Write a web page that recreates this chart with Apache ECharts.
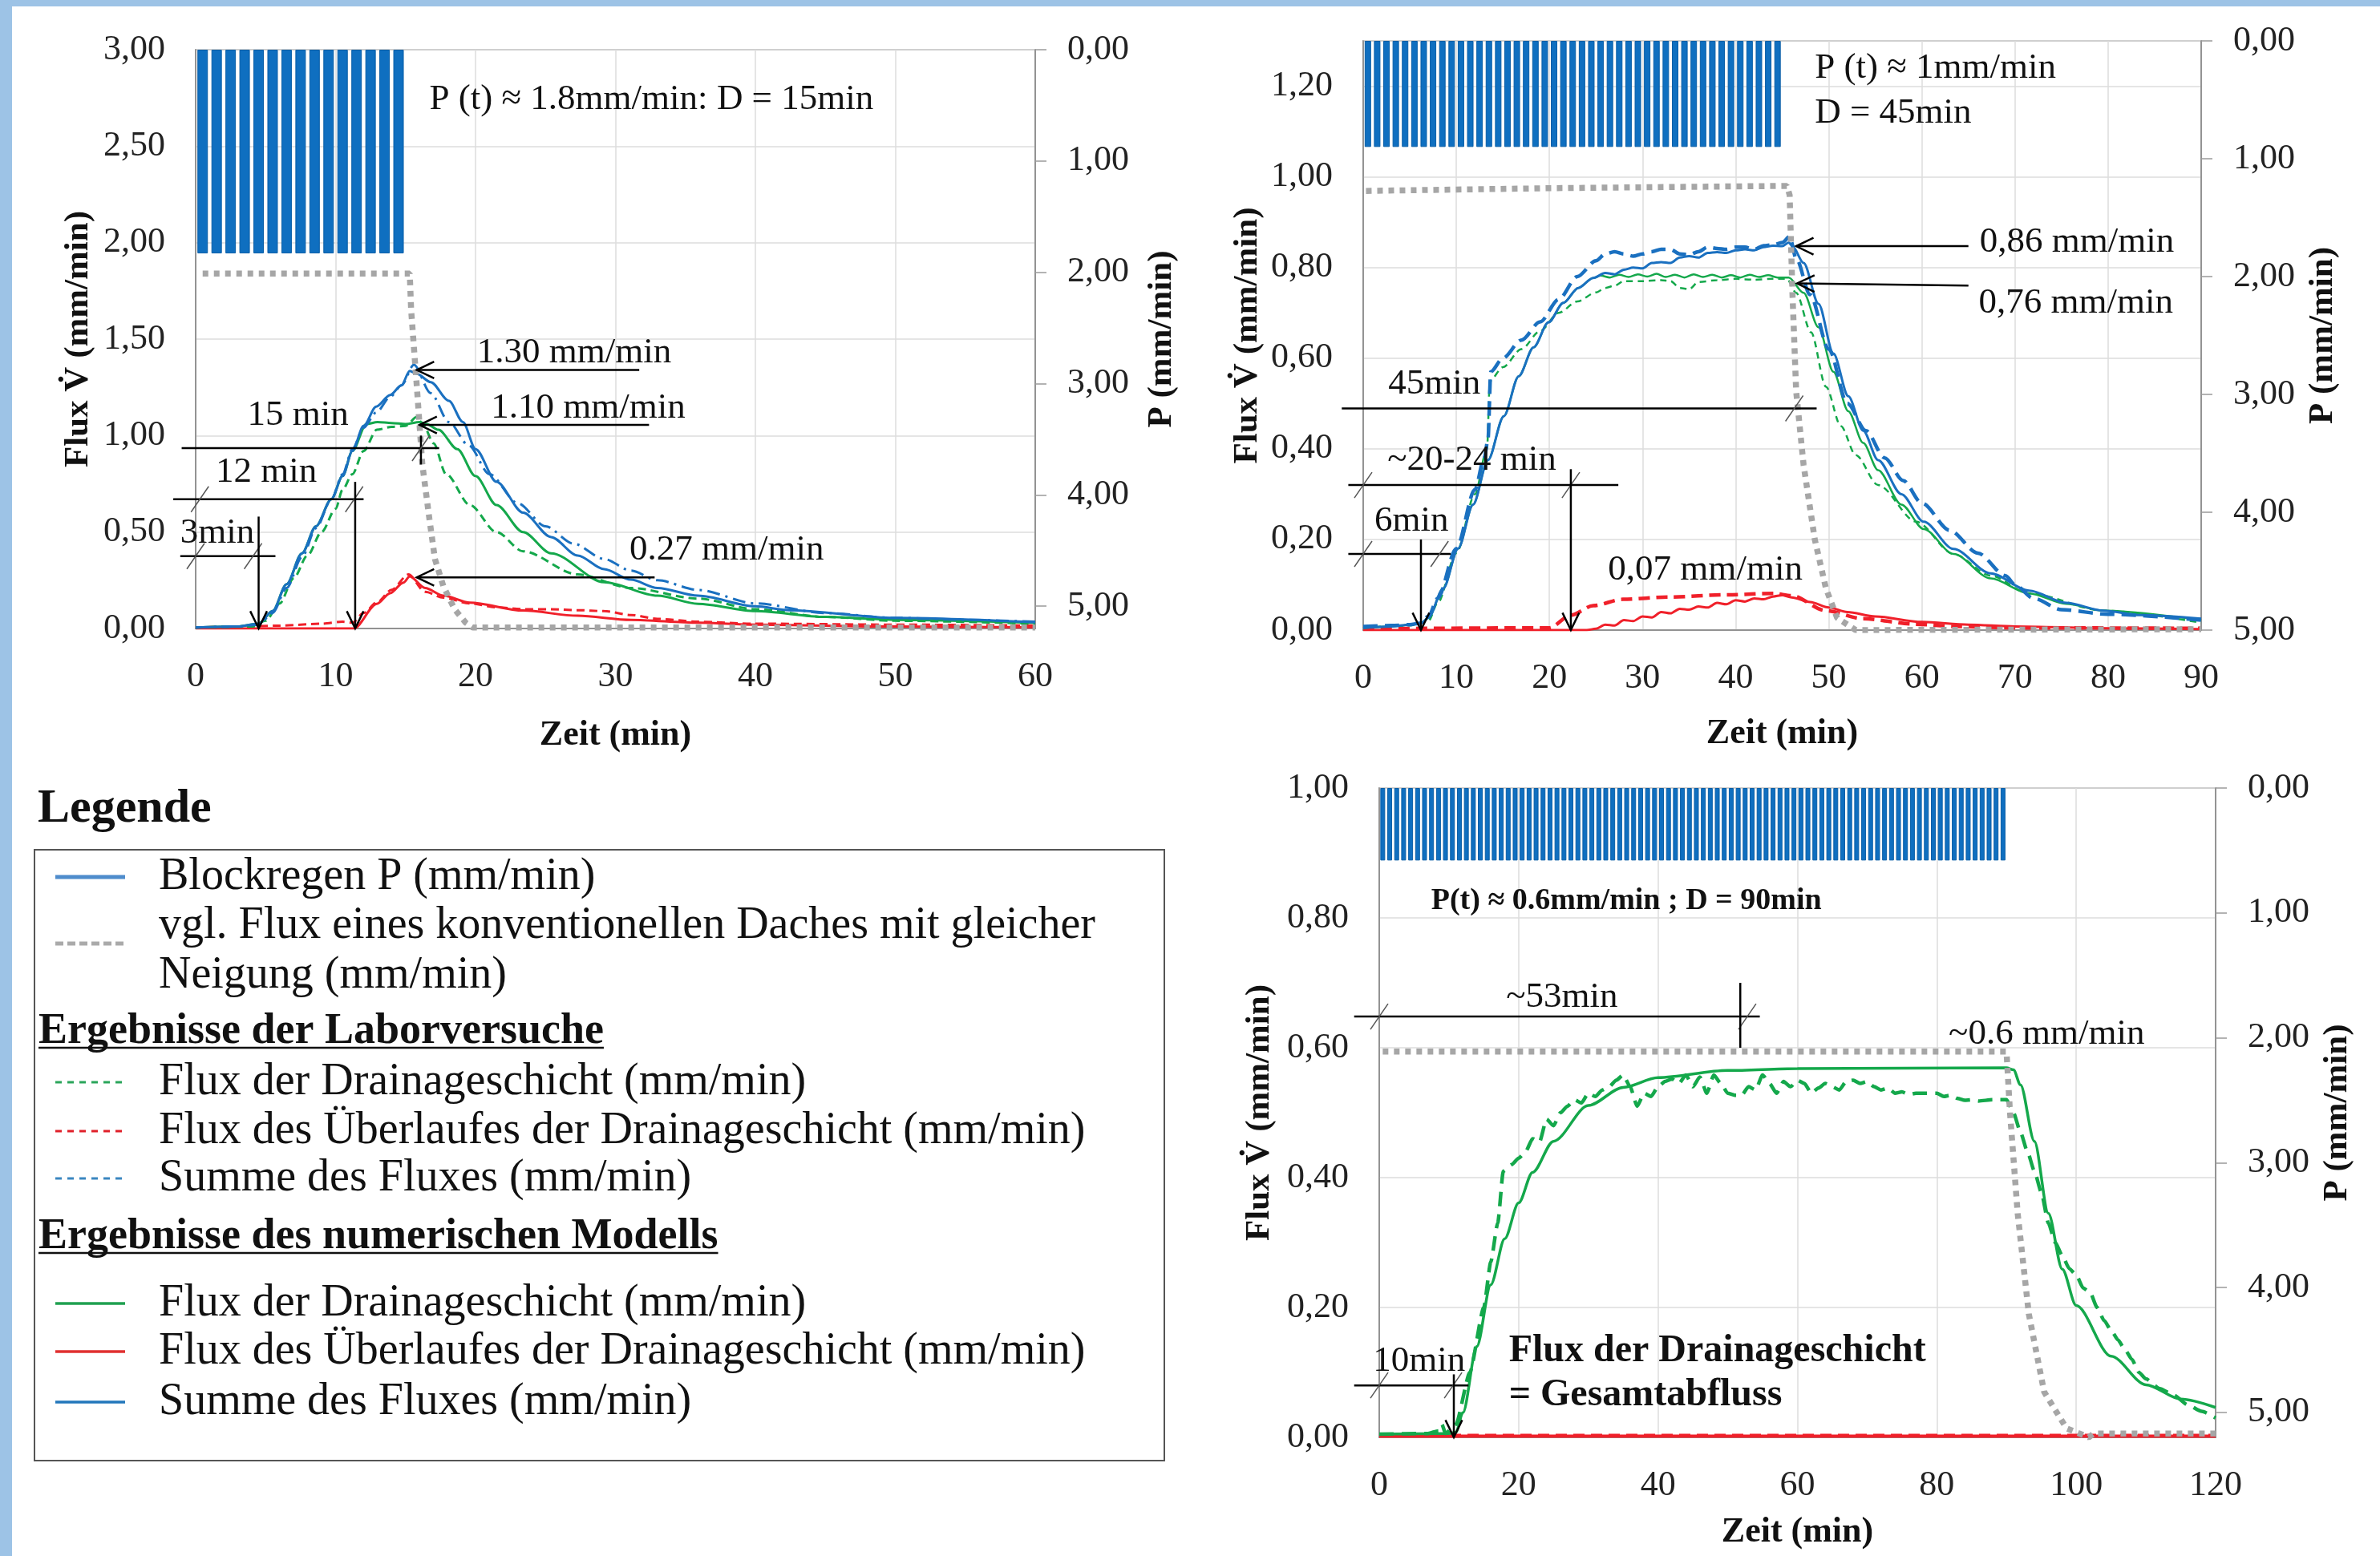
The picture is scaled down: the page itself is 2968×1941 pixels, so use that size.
<!DOCTYPE html>
<html>
<head>
<meta charset="utf-8">
<script src="https://cdn.jsdelivr.net/npm/echarts@6.0.0/dist/echarts.min.js"></script>
<style>
  html, body { margin: 0; padding: 0; background: #fff; }
  #main { width: 2968px; height: 1941px; }
</style>
</head>
<body>
<div id="main"></div>
<script>
// ---- rainfall blocks (mm/min per minute) ----
var rain1 = [1.83, 1.83, 1.83, 1.83, 1.83, 1.83, 1.83, 1.83, 1.83, 1.83, 1.83, 1.83, 1.83, 1.83, 1.83];
var rain2 = [0.9, 0.9, 0.9, 0.9, 0.9, 0.9, 0.9, 0.9, 0.9, 0.9, 0.9, 0.9, 0.9, 0.9, 0.9,
  0.9, 0.9, 0.9, 0.9, 0.9, 0.9, 0.9, 0.9, 0.9, 0.9, 0.9, 0.9, 0.9, 0.9, 0.9,
  0.9, 0.9, 0.9, 0.9, 0.9, 0.9, 0.9, 0.9, 0.9, 0.9, 0.9, 0.9, 0.9, 0.9, 0.9];
var rain3 = [0.58, 0.58, 0.58, 0.58, 0.58, 0.58, 0.58, 0.58, 0.58, 0.58, 0.58, 0.58, 0.58, 0.58, 0.58,
  0.58, 0.58, 0.58, 0.58, 0.58, 0.58, 0.58, 0.58, 0.58, 0.58, 0.58, 0.58, 0.58, 0.58, 0.58,
  0.58, 0.58, 0.58, 0.58, 0.58, 0.58, 0.58, 0.58, 0.58, 0.58, 0.58, 0.58, 0.58, 0.58, 0.58,
  0.58, 0.58, 0.58, 0.58, 0.58, 0.58, 0.58, 0.58, 0.58, 0.58, 0.58, 0.58, 0.58, 0.58, 0.58,
  0.58, 0.58, 0.58, 0.58, 0.58, 0.58, 0.58, 0.58, 0.58, 0.58, 0.58, 0.58, 0.58, 0.58, 0.58,
  0.58, 0.58, 0.58, 0.58, 0.58, 0.58, 0.58, 0.58, 0.58, 0.58, 0.58, 0.58, 0.58, 0.58, 0.58];

// ---- chart 1 : D = 15 min ----
var gray1 = [[0.5, 1.84], [15.3, 1.84], [15.4, 1.65], [15.8, 1.26], [16.2, 0.85], [16.7, 0.57], [17.1, 0.36],
  [17.7, 0.22], [18.5, 0.1], [19.3, 0.03], [19.8, 0.005], [60, 0.005]];
var blueModel1 = [[0, 0.005], [3, 0.01], [4.5, 0.025], [5.5, 0.09], [6.5, 0.23], [7.6, 0.39], [8.6, 0.53], [9.7, 0.67],
  [10.5, 0.79], [11.2, 0.92], [12.0, 1.05], [12.9, 1.15], [13.9, 1.21], [14.7, 1.26], [15.3, 1.335], [15.8, 1.32],
  [16.8, 1.277], [18.1, 1.18], [19.1, 1.07], [20.0, 0.93], [21.5, 0.76], [23.4, 0.6], [25.4, 0.474], [27.3, 0.378],
  [29.2, 0.307], [31.1, 0.253], [33.0, 0.21], [35.9, 0.17], [40, 0.115], [42.4, 0.095], [50, 0.055], [60, 0.032]];
var blueLab1 = [[0, 0.005], [3, 0.01], [4.5, 0.02], [5.5, 0.08], [6.5, 0.21], [7.6, 0.37], [8.6, 0.52], [9.7, 0.67],
  [10.5, 0.8], [11.2, 0.93], [12.0, 1.04], [12.9, 1.12], [13.9, 1.2], [14.7, 1.26], [15.6, 1.367], [16.8, 1.22],
  [18.1, 1.07], [19.5, 0.95], [21, 0.8], [23, 0.65], [25, 0.53], [27, 0.44], [29.2, 0.36], [31.1, 0.3], [33, 0.25],
  [35.9, 0.2], [40, 0.13], [45, 0.08], [50, 0.055], [55, 0.045], [60, 0.035]];
var greenModel1 = [[0, 0.005], [3, 0.01], [4.5, 0.025], [5.5, 0.09], [6.5, 0.23], [7.6, 0.39], [8.6, 0.53], [9.7, 0.67],
  [10.5, 0.79], [11.2, 0.92], [12.2, 1.06], [13, 1.07], [14, 1.065], [15, 1.06], [16, 1.07], [16.5, 1.06],
  [17.35, 1.03], [18.7, 0.93], [20.0, 0.79], [21.5, 0.64], [23.4, 0.5], [25.4, 0.39], [29.2, 0.24], [33.0, 0.17],
  [35.9, 0.128], [40, 0.09], [45, 0.06], [50, 0.045], [60, 0.03]];
var greenLab1 = [[0, 0.005], [4, 0.01], [5, 0.04], [6, 0.13], [7, 0.26], [8, 0.38], [9, 0.5], [10, 0.62], [10.5, 0.72],
  [11.2, 0.8], [12, 0.92], [12.95, 1.03], [14, 1.045], [15, 1.05], [15.8, 1.097], [16.3, 1.05], [17.0, 0.96],
  [17.9, 0.8], [19.6, 0.64], [21.5, 0.5], [23.4, 0.4], [27.3, 0.28], [31.1, 0.21], [35.9, 0.155], [40, 0.1],
  [45, 0.06], [50, 0.04], [60, 0.025]];
var redModel1 = [[0, 0.0], [11.3, 0.0], [12.95, 0.128], [13.9, 0.183], [14.85, 0.238], [15.3, 0.27], [16.4, 0.21],
  [17.7, 0.17], [19.6, 0.134], [23.4, 0.093], [27.3, 0.066], [31.1, 0.045], [35.9, 0.03], [40, 0.02], [50, 0.01], [60, 0.006]];
var redLab1 = [[0, 0.005], [3, 0.01], [6, 0.015], [9, 0.025], [10.5, 0.035], [11.2, 0.03], [12, 0.08], [12.95, 0.135],
  [14, 0.2], [15.2, 0.28], [16.4, 0.19], [17.7, 0.16], [19.6, 0.13], [21.5, 0.11], [23.4, 0.1], [25.4, 0.1],
  [27.3, 0.095], [29.2, 0.09], [31.1, 0.07], [33, 0.05], [35.9, 0.035], [40, 0.025], [50, 0.02], [60, 0.015]];

// ---- chart 2 : D = 45 min ----
var gray2 = [[0.3, 0.969], [10, 0.972], [20, 0.975], [30, 0.977], [40, 0.979], [45.5, 0.98], [45.8, 0.96], [46.1, 0.744],
  [46.5, 0.527], [47.3, 0.364], [48.5, 0.2], [49.7, 0.092], [50.9, 0.027], [52.9, 0.0], [90, 0.002]];
var blueModel2 = [[0, 0.005], [3, 0.008], [5, 0.012], [6.2, 0.015], [7, 0.027], [8.6, 0.092], [10.2, 0.18], [11.8, 0.277],
  [13.4, 0.375], [15.1, 0.472], [16.7, 0.56], [18.3, 0.624], [19.9, 0.679], [21.5, 0.722], [23.1, 0.755], [24.7, 0.777],
  [26, 0.788], [27, 0.785], [28, 0.795], [29, 0.8], [30, 0.798], [31, 0.81], [32, 0.812], [33, 0.81], [34, 0.822],
  [35, 0.825], [36, 0.822], [37, 0.832], [38, 0.834], [39, 0.832], [40, 0.838], [41, 0.84], [42, 0.838], [43, 0.845],
  [44, 0.848], [45, 0.847], [45.7, 0.855], [46.1, 0.847], [47.3, 0.81], [48.9, 0.72], [50.5, 0.61], [52.1, 0.516],
  [53.7, 0.44], [55.3, 0.375], [57.8, 0.3], [60.2, 0.239], [63.4, 0.179], [67.4, 0.125], [71.5, 0.087], [75.5, 0.06],
  [79.5, 0.043], [83.5, 0.033], [90, 0.025]];
var blueLab2 = [[0, 0.008], [3, 0.01], [5, 0.012], [6, 0.015], [7, 0.03], [8, 0.07], [10, 0.18], [12, 0.31], [13, 0.38],
  [13.4, 0.42], [13.7, 0.57], [15, 0.6], [17, 0.64], [19, 0.68], [21, 0.73], [23, 0.78], [25, 0.815], [26, 0.83],
  [27, 0.835], [28, 0.83], [29, 0.825], [30, 0.83], [31, 0.835], [32, 0.84], [33, 0.84], [34, 0.83], [35, 0.828],
  [36, 0.835], [37, 0.845], [38, 0.842], [39, 0.84], [40, 0.845], [41, 0.845], [42, 0.84], [43, 0.848], [44, 0.85],
  [45, 0.855], [45.8, 0.868], [46.5, 0.82], [48, 0.74], [50, 0.62], [52, 0.5], [54, 0.44], [56, 0.38], [58, 0.33],
  [60, 0.28], [63, 0.22], [66, 0.17], [69, 0.12], [70, 0.1], [72, 0.07], [75, 0.045], [80, 0.035], [90, 0.022]];
var greenModel2 = [[0, 0.005], [3, 0.008], [5, 0.012], [6.2, 0.015], [7, 0.027], [8.6, 0.092], [10.2, 0.18], [11.8, 0.277],
  [13.4, 0.375], [15.1, 0.472], [16.7, 0.56], [18.3, 0.624], [19.9, 0.679], [21.5, 0.722], [23.1, 0.755], [24.7, 0.777],
  [25.5, 0.782], [26.5, 0.778], [27.5, 0.784], [28.5, 0.779], [29.5, 0.785], [30.5, 0.78], [31.5, 0.786], [32.5, 0.779],
  [33.5, 0.784], [34.5, 0.778], [35.5, 0.785], [36.5, 0.779], [37.5, 0.784], [38.5, 0.778], [39.5, 0.783], [40.5, 0.778],
  [41.5, 0.784], [42.5, 0.779], [43.5, 0.783], [44.5, 0.778], [45.7, 0.778], [47.3, 0.744], [48.9, 0.668], [50.5, 0.57],
  [52.1, 0.483], [53.7, 0.413], [55.3, 0.353], [57.8, 0.277], [60.2, 0.223], [63.4, 0.168], [67.4, 0.114],
  [71.5, 0.081], [75.5, 0.058], [79.5, 0.043], [90, 0.022]];
var greenLab2 = [[0, 0.005], [5, 0.01], [7, 0.02], [8, 0.06], [10, 0.17], [12, 0.3], [13.3, 0.4], [13.6, 0.55], [15, 0.58],
  [17, 0.62], [19, 0.66], [21, 0.7], [23, 0.725], [25, 0.745], [26, 0.755], [27, 0.76], [28, 0.77], [30, 0.77],
  [32, 0.772], [33, 0.77], [34, 0.755], [35, 0.752], [36, 0.768], [38, 0.772], [40, 0.775], [42, 0.773], [44, 0.775],
  [45.5, 0.775], [46.5, 0.744], [48.1, 0.657], [49.7, 0.537], [51.3, 0.45], [52.9, 0.386], [55.3, 0.32], [59.4, 0.239],
  [63.4, 0.168], [67.4, 0.12], [71.5, 0.081], [79.5, 0.043], [90, 0.016]];
var redModel2 = [[0, 0.0], [24, 0.0], [25, 0.003], [26, 0.012], [27, 0.01], [28, 0.022], [29, 0.02], [30, 0.03],
  [31, 0.028], [32, 0.04], [33, 0.037], [34, 0.047], [35, 0.045], [36, 0.052], [37, 0.05], [38, 0.06], [39, 0.057],
  [40, 0.066], [41, 0.063], [42, 0.07], [43, 0.068], [44, 0.074], [45, 0.077], [46, 0.072], [48, 0.062], [50, 0.05],
  [52, 0.04], [55, 0.03], [60, 0.018], [65, 0.012], [70, 0.008], [80, 0.004], [90, 0.002]];
var redLab2 = [[0, 0.003], [20, 0.005], [22.3, 0.033], [24.7, 0.054], [27.9, 0.068], [32.8, 0.073], [39.2, 0.078],
  [44.1, 0.081], [46, 0.076], [49.7, 0.043], [53.7, 0.025], [59.4, 0.013], [63.4, 0.008], [70, 0.005], [90, 0.004]];

// ---- chart 3 : D = 90 min ----
var gray3 = [[0.5, 0.594], [90, 0.594], [90.5, 0.5], [91.6, 0.345], [93.2, 0.19], [95.4, 0.07], [98.6, 0.014],
  [101.8, 0.0], [102.5, 0.006], [120, 0.006]];
var greenModel3 = [[0, 0.005], [10, 0.006], [11, 0.008], [12, 0.038], [14, 0.14], [16, 0.235], [18, 0.306], [20, 0.361],
  [22, 0.408], [25, 0.456], [30, 0.511], [35, 0.539], [40, 0.554], [50, 0.565], [60, 0.568], [90, 0.569], [91, 0.566],
  [92, 0.543], [94, 0.456], [96, 0.345], [98, 0.259], [100, 0.203], [105, 0.125], [110, 0.081], [115, 0.059], [120, 0.046]];
var greenLab3 = [[0, 0.005], [7, 0.006], [8.5, 0.01], [9, 0.02], [9.5, 0.006], [11, 0.02], [13, 0.1], [15, 0.2], [16, 0.27],
  [17, 0.33], [17.8, 0.41], [19, 0.42], [20, 0.43], [21, 0.44], [22, 0.46], [23, 0.455], [24, 0.49], [25, 0.48],
  [26, 0.5], [27, 0.51], [28, 0.52], [29, 0.515], [30, 0.53], [31, 0.525], [32, 0.535], [33, 0.54], [34, 0.55],
  [35, 0.558], [36, 0.54], [37, 0.51], [38, 0.53], [39, 0.525], [40, 0.54], [41, 0.548], [42, 0.552], [43, 0.545],
  [44, 0.558], [45, 0.54], [46, 0.555], [47, 0.53], [48, 0.558], [49, 0.545], [50, 0.53], [51, 0.527], [52, 0.527],
  [53, 0.54], [54, 0.535], [55, 0.558], [56, 0.545], [57, 0.53], [58, 0.548], [59, 0.54], [60, 0.55], [61, 0.545],
  [62, 0.53], [63, 0.538], [64, 0.545], [65, 0.54], [66, 0.535], [67, 0.548], [68, 0.55], [69, 0.545], [70, 0.548],
  [71, 0.54], [72, 0.535], [73, 0.538], [74, 0.53], [75, 0.532], [76, 0.528], [77, 0.53], [78, 0.53], [80, 0.53],
  [81, 0.525], [82, 0.527], [83, 0.522], [84, 0.519], [85, 0.52], [86, 0.518], [88, 0.52], [90, 0.52], [91, 0.5],
  [92, 0.47], [93, 0.44], [94, 0.41], [95, 0.377], [96, 0.33], [97, 0.3], [98, 0.28], [99, 0.26], [100, 0.25],
  [101, 0.23], [102, 0.223], [103, 0.2], [104, 0.18], [105, 0.165], [106, 0.15], [107, 0.135], [108, 0.12],
  [109, 0.1], [110, 0.09], [112, 0.075], [114, 0.065], [116, 0.05], [118, 0.04], [120, 0.03]];
var redModel3 = [[0, 0.002], [120, 0.002]];
var redLab3 = [[0, 0.003], [120, 0.003]];

// ---- annotations (data coordinates: time, flux) ----
var noteText1 = ['P (t) ≈ 1.8mm/min: D = 15min', '1.30 mm/min', '1.10 mm/min', '15 min', '12 min', '3min', '0.27 mm/min'];
var notePos1 = [[16.7, 2.74], [20.1, 1.43], [21.1, 1.14], [3.7, 1.106], [1.43, 0.81], [-1.1, 0.494], [31.0, 0.405]];
// x1, y1, x2, y2, kind (0 line, 1 arrow, 2 slash)
var marks1 = [[31.7, 1.34, 15.8, 1.34, 1], [32.4, 1.055, 16.0, 1.055, 1], [-1.0, 0.935, 17.4, 0.935, 0],
  [16.1, 1.0, 16.1, 0.85, 0], [16.1, 0.935, 16.1, 0.935, 2], [-1.6, 0.67, 12.0, 0.67, 0], [0.3, 0.67, 0.3, 0.67, 2],
  [11.33, 0.67, 11.33, 0.67, 2], [11.4, 0.76, 11.4, 0.0, 1], [-1.1, 0.375, 5.7, 0.375, 0], [0, 0.375, 0, 0.375, 2],
  [4.1, 0.375, 4.1, 0.375, 2], [4.5, 0.58, 4.5, 0.0, 1], [32.8, 0.265, 15.8, 0.265, 1]];

var noteText2 = ['P (t) ≈ 1mm/min', 'D = 45min', '0,86 mm/min', '0,76 mm/min', '45min', '~20-24 min', '6min', '0,07 mm/min'];
var notePos2 = [[48.5, 1.24], [48.5, 1.14], [66.2, 0.856], [66.1, 0.722], [2.7, 0.543], [2.6, 0.375], [1.2, 0.241], [26.3, 0.132]];
var marks2 = [[65.0, 0.847, 46.5, 0.847, 1], [65.0, 0.76, 46.6, 0.765, 1], [-2.3, 0.489, 48.7, 0.489, 0],
  [46.3, 0.489, 46.3, 0.489, 2], [-1.6, 0.32, 27.4, 0.32, 0], [0, 0.32, 0, 0.32, 2], [22.3, 0.32, 22.3, 0.32, 2],
  [22.3, 0.355, 22.3, 0.0, 1], [-1.6, 0.168, 9.4, 0.168, 0], [0, 0.168, 0, 0.168, 2], [8.2, 0.168, 8.2, 0.168, 2],
  [6.2, 0.2, 6.2, 0.0, 1]];

var noteText3 = ['P(t) ≈ 0.6mm/min ; D = 90min', '~53min', '~0.6 mm/min', '10min', 'Flux der Drainageschicht', '= Gesamtabfluss'];
var notePos3 = [[7.45, 0.826], [18.2, 0.678], [81.7, 0.621], [-0.9, 0.117], [18.6, 0.132], [18.6, 0.065]];
var noteKind3 = ['small', 'plain', 'plain', 'plain', 'big', 'big'];
var marks3 = [[-3.6, 0.648, 54.6, 0.648, 0], [0, 0.648, 0, 0.648, 2], [52.8, 0.648, 52.8, 0.648, 2],
  [51.8, 0.70, 51.8, 0.60, 0], [-3.6, 0.08, 12.8, 0.08, 0], [0, 0.08, 0, 0.08, 2], [10.6, 0.08, 10.6, 0.08, 2],
  [10.7, 0.097, 10.7, 0.0, 1]];

// ---- legend text ----
var legendTitle = 'Legende';
var legendHead = ['Ergebnisse der Laborversuche', 'Ergebnisse des numerischen Modells'];
var legendItems = ['Blockregen P (mm/min)', 'vgl. Flux eines konventionellen Daches mit gleicher', 'Neigung (mm/min)',
  'Flux der Drainageschicht (mm/min)', 'Flux des Überlaufes der Drainageschicht (mm/min)', 'Summe des Fluxes (mm/min)',
  'Flux der Drainageschicht (mm/min)', 'Flux des Überlaufes der Drainageschicht (mm/min)', 'Summe des Fluxes (mm/min)'];

var FONT = "'Liberation Serif', 'Times New Roman', serif";
var BLUE = '#1a70c0', GREEN = '#14a84b', RED = '#f0202a', GRAY = '#a6a6a6';

var myChart = echarts.init(document.getElementById('main'));

function fmt2(v) { return v.toFixed(2).replace('.', ','); }

function xAxisFor(grid, max, interval, gap) {
  return {
    type: 'value', gridIndex: grid, min: 0, max: max, interval: interval,
    name: 'Zeit (min)', nameLocation: 'middle', nameGap: gap,
    nameTextStyle: { fontFamily: FONT, fontSize: 44, fontWeight: 'bold', color: '#111' },
    axisLine: { show: true, lineStyle: { color: '#7f7f7f', width: 1.5 } },
    axisTick: { show: false },
    axisLabel: { fontFamily: FONT, fontSize: 44, color: '#222', margin: 38 },
    splitLine: { show: true, lineStyle: { color: '#dcdcdc', width: 1.5 } }
  };
}
function leftAxis(grid, max, interval, gap, hideMax) {
  return {
    type: 'value', gridIndex: grid, position: 'left', min: 0, max: max, interval: interval,
    name: 'Flux V\u0307 (mm/min)', nameLocation: 'middle', nameGap: gap,
    nameTextStyle: { fontFamily: FONT, fontSize: 43, fontWeight: 'bold', color: '#111' },
    axisLine: { show: true, lineStyle: { color: '#7f7f7f', width: 1.5 } },
    axisTick: { show: false },
    axisLabel: { fontFamily: FONT, fontSize: 44, color: '#222', margin: 38, showMaxLabel: !hideMax, formatter: fmt2 },
    splitLine: { show: true, lineStyle: { color: '#dcdcdc', width: 1.5 } }
  };
}
function rightAxis(grid, max, gap, hideMax) {
  return {
    type: 'value', gridIndex: grid, position: 'right', inverse: true, min: 0, max: max, interval: 1,
    name: 'P (mm/min)', nameLocation: 'middle', nameGap: gap,
    nameTextStyle: { fontFamily: FONT, fontSize: 43, fontWeight: 'bold', color: '#111' },
    axisLine: { show: true, lineStyle: { color: '#7f7f7f', width: 1.5 } },
    axisTick: { show: true, inside: false, length: 14, lineStyle: { color: '#9a9a9a', width: 1.5 } },
    axisLabel: { fontFamily: FONT, fontSize: 44, color: '#222', margin: 40, showMaxLabel: !hideMax, formatter: fmt2 },
    splitLine: { show: false }
  };
}

function rainBars(grid, values, width) {
  return {
    type: 'bar', xAxisIndex: grid, yAxisIndex: grid * 2 + 1, barWidth: width, silent: true, z: 1,
    data: values.map(function (v, i) { return [i + 0.5, v]; }),
    itemStyle: { color: '#0f6fc0', borderColor: '#0a5ea6', borderWidth: 1 }
  };
}
function line(grid, data, color, width, dash, smooth, z) {
  return {
    type: 'line', xAxisIndex: grid, yAxisIndex: grid * 2, data: data, symbol: 'none', showSymbol: false,
    smooth: smooth, smoothMonotone: 'x', silent: true, z: z || 3,
    lineStyle: { color: color, width: width, type: dash || 'solid', cap: 'butt' }
  };
}
function grayLine(grid, data) {
  return line(grid, data, GRAY, 7.5, [7, 7], false, 5);
}

function marksSeries(grid, marks) {
  return {
    type: 'custom', xAxisIndex: grid, yAxisIndex: grid * 2, clip: false, silent: true, z: 8,
    encode: { x: [0, 2], y: [1, 3] },
    data: marks,
    renderItem: function (params, api) {
      var p1 = api.coord([api.value(0), api.value(1)]);
      var p2 = api.coord([api.value(2), api.value(3)]);
      var kind = api.value(4);
      if (kind === 2) {
        return {
          type: 'line', shape: { x1: p1[0] - 11, y1: p1[1] + 16, x2: p1[0] + 11, y2: p1[1] - 16 },
          style: { stroke: '#555', lineWidth: 1.5 }
        };
      }
      var children = [{
        type: 'line', shape: { x1: p1[0], y1: p1[1], x2: p2[0], y2: p2[1] },
        style: { stroke: '#000', lineWidth: 2.5 }
      }];
      if (kind === 1) {
        var ang = Math.atan2(p2[1] - p1[1], p2[0] - p1[0]);
        var L = 24, a = 0.45;
        children.push({
          type: 'polyline',
          shape: {
            points: [[p2[0] - L * Math.cos(ang - a), p2[1] - L * Math.sin(ang - a)], [p2[0], p2[1]],
              [p2[0] - L * Math.cos(ang + a), p2[1] - L * Math.sin(ang + a)]]
          },
          style: { stroke: '#000', lineWidth: 2.5, fill: null }
        });
      }
      return { type: 'group', children: children };
    }
  };
}
function notesSeries(grid, pos, texts, kinds) {
  return {
    type: 'custom', xAxisIndex: grid, yAxisIndex: grid * 2, clip: false, silent: true, z: 9,
    encode: { x: 0, y: 1 },
    data: pos,
    renderItem: function (params, api) {
      var p = api.coord([api.value(0), api.value(1)]);
      var k = kinds ? kinds[params.dataIndex] : 'plain';
      var size = k === 'small' ? 38 : (k === 'big' ? 48 : 45);
      return {
        type: 'text', x: p[0], y: p[1],
        style: {
          text: texts[params.dataIndex], fill: '#111', fontFamily: FONT, fontSize: size,
          fontWeight: k === 'plain' ? 'normal' : 'bold', align: 'left', verticalAlign: 'middle'
        }
      };
    }
  };
}

// ---- legend box drawn as graphic ----
var measureCtx = document.createElement('canvas').getContext('2d');
function textWidth(s, font) { measureCtx.font = font; return measureCtx.measureText(s).width; }

var headFont = 'bold 54px ' + FONT;
var legendRows = [1094, 1155, 1217, 1350, 1411, 1470, 1626, 1686, 1749];
var sampleStyle = [
  { y: 1094, color: '#4f8ccc', width: 5, dash: null },
  { y: 1177, color: '#aaaaaa', width: 5, dash: [10, 5] },
  { y: 1350, color: '#2aa55a', width: 3, dash: [8, 7] },
  { y: 1411, color: '#e0202a', width: 3, dash: [8, 7] },
  { y: 1470, color: '#3a86c0', width: 3, dash: [8, 7] },
  { y: 1626, color: '#20a050', width: 3.5, dash: null },
  { y: 1686, color: '#e03030', width: 3.5, dash: null },
  { y: 1749, color: '#2277bb', width: 3.5, dash: null }
];
var graphics = [
  { type: 'rect', left: 0, top: 0, shape: { width: 15, height: 1941 }, style: { fill: '#9dc3e6' }, silent: true },
  { type: 'rect', left: 0, top: 0, shape: { width: 2968, height: 8 }, style: { fill: '#9dc3e6' }, silent: true },
  { type: 'rect', shape: { x: 43, y: 1060, width: 1409, height: 762 }, style: { fill: null, stroke: '#555', lineWidth: 2 }, silent: true },
  { type: 'text', x: 47, y: 1009, style: { text: legendTitle, fontFamily: FONT, fontSize: 60, fontWeight: 'bold', fill: '#111', verticalAlign: 'middle' } }
];
sampleStyle.forEach(function (s) {
  graphics.push({
    type: 'line', shape: { x1: 69, y1: s.y, x2: 156, y2: s.y },
    style: { stroke: s.color, lineWidth: s.width, lineDash: s.dash }, silent: true
  });
});
legendItems.forEach(function (t, i) {
  graphics.push({
    type: 'text', x: 198, y: legendRows[i],
    style: { text: t, fontFamily: FONT, fontSize: 56, fill: '#111', verticalAlign: 'middle' }
  });
});
[1287, 1543].forEach(function (y, i) {
  graphics.push({
    type: 'text', x: 48, y: y,
    style: { text: legendHead[i], fontFamily: FONT, fontSize: 54, fontWeight: 'bold', fill: '#111', verticalAlign: 'middle' }
  });
  graphics.push({
    type: 'line', shape: { x1: 48, y1: y + 20, x2: 48 + textWidth(legendHead[i], headFont), y2: y + 20 },
    style: { stroke: '#111', lineWidth: 2.5 }, silent: true
  });
});

var option = {
  animation: false,
  backgroundColor: '#ffffff',
  grid: [
    { left: 244, top: 62, width: 1047, height: 722, show: true, borderColor: '#8c8c8c', borderWidth: 1.5 },
    { left: 1700, top: 51, width: 1045, height: 735, show: true, borderColor: '#8c8c8c', borderWidth: 1.5 },
    { left: 1720, top: 983, width: 1043, height: 810, show: true, borderColor: '#8c8c8c', borderWidth: 1.5 }
  ],
  xAxis: [xAxisFor(0, 60, 10, 112), xAxisFor(1, 90, 10, 108), xAxisFor(2, 120, 20, 97)],
  yAxis: [
    leftAxis(0, 3, 0.5, 125, false), rightAxis(0, 5.2, 136, true),
    leftAxis(1, 1.3, 0.2, 123, true), rightAxis(1, 5, 130, false),
    leftAxis(2, 1, 0.2, 128, false), rightAxis(2, 5.2, 130, true)
  ],
  graphic: graphics,
  series: [
    rainBars(0, rain1, 13),
    line(0, redLab1, RED, 3, [10, 6], 0.3),
    line(0, redModel1, RED, 3, 'solid', 0.3),
    line(0, greenLab1, GREEN, 3, [10, 6], 0.3),
    line(0, greenModel1, GREEN, 3, 'solid', 0.3),
    line(0, blueLab1, BLUE, 3, [16, 7, 3, 7], 0.3),
    line(0, blueModel1, BLUE, 3, 'solid', 0.3),
    grayLine(0, gray1),
    marksSeries(0, marks1),
    notesSeries(0, notePos1, noteText1),

    rainBars(1, rain2, 8),
    line(1, redLab2, RED, 4.5, [14, 8], 0.3),
    line(1, redModel2, RED, 3, 'solid', 0.3),
    line(1, greenLab2, GREEN, 2.5, [8, 6], 0.3),
    line(1, greenModel2, GREEN, 2.5, 'solid', 0.3),
    line(1, blueLab2, BLUE, 4.5, [18, 9], 0.3),
    line(1, blueModel2, BLUE, 3, 'solid', 0.3),
    grayLine(1, gray2),
    marksSeries(1, marks2),
    notesSeries(1, notePos2, noteText2),

    rainBars(2, rain3, 6),
    line(2, redLab3, RED, 4, [14, 8], false),
    line(2, redModel3, RED, 4, 'solid', false),
    line(2, greenLab3, GREEN, 4.5, [18, 10], 0.2),
    line(2, greenModel3, GREEN, 3.5, 'solid', 0.3),
    grayLine(2, gray3),
    marksSeries(2, marks3),
    notesSeries(2, notePos3, noteText3, noteKind3)
  ]
};
myChart.setOption(option);
</script>
</body>
</html>
